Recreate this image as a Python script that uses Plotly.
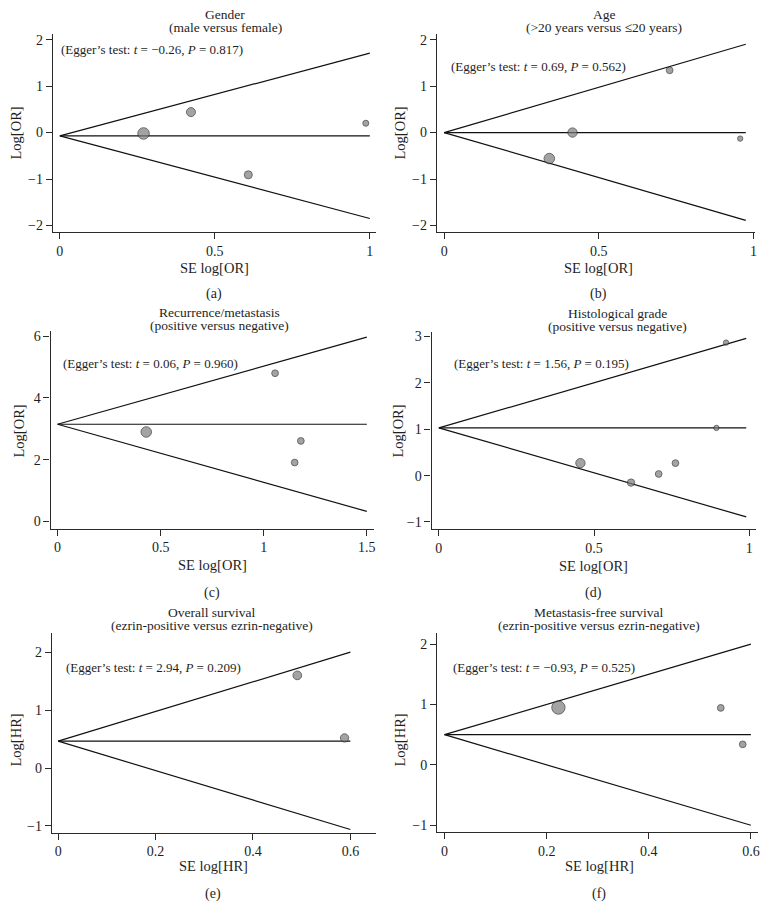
import plotly.graph_objects as go

W, H = 772, 908
FONT = "Liberation Serif, Times New Roman, serif"

# ---------------- data ----------------
# (a) Gender
se_a = [0.27, 0.423, 0.608, 0.987]
lor_a = [-0.02, 0.44, -0.91, 0.20]
w_a = [11.5, 9, 8, 6]
pooled_a, semax_a, hi_a, lo_a = -0.07, 1.0, 1.71, -1.85
title_a = ["Gender", "(male versus female)"]
egger_a = "(Egger’s test: <i>t</i> = −0.26, <i>P</i> = 0.817)"

# (b) Age
se_b = [0.34, 0.415, 0.729, 0.957]
lor_b = [-0.56, 0.0, 1.34, -0.13]
w_b = [10.5, 9.3, 6.7, 5.3]
pooled_b, semax_b, hi_b, lo_b = 0.0, 0.975, 1.90, -1.89
title_b = ["Age", "(&gt;20 years versus ≤20 years)"]
egger_b = "(Egger’s test: <i>t</i> = 0.69, <i>P</i> = 0.562)"

# (c) Recurrence/metastasis
se_c = [0.43, 1.055, 1.18, 1.15]
lor_c = [2.90, 4.80, 2.61, 1.91]
w_c = [10.5, 6.7, 6.7, 6.7]
pooled_c, semax_c, hi_c, lo_c = 3.15, 1.5, 5.97, 0.33
title_c = ["Recurrence/metastasis", "(positive versus negative)"]
egger_c = "(Egger’s test: <i>t</i> = 0.06, <i>P</i> = 0.960)"

# (d) Histological grade
se_d = [0.456, 0.619, 0.708, 0.762, 0.894, 0.925]
lor_d = [0.27, -0.15, 0.036, 0.27, 1.03, 2.87]
w_d = [9.3, 7.3, 6.7, 6.7, 5.3, 5.3]
pooled_d, semax_d, hi_d, lo_d = 1.03, 0.99, 2.96, -0.89
title_d = ["Histological grade", "(positive versus negative)"]
egger_d = "(Egger’s test: <i>t</i> = 1.56, <i>P</i> = 0.195)"

# (e) Overall survival
se_e = [0.491, 0.588]
lor_e = [1.60, 0.52]
w_e = [8.7, 8.3]
pooled_e, semax_e, hi_e, lo_e = 0.465, 0.6, 2.0, -1.06
title_e = ["Overall survival", "(ezrin-positive versus ezrin-negative)"]
egger_e = "(Egger’s test: <i>t</i> = 2.94, <i>P</i> = 0.209)"

# (f) Metastasis-free survival
se_f = [0.223, 0.541, 0.584]
lor_f = [0.95, 0.944, 0.34]
w_f = [13.3, 6.7, 6.7]
pooled_f, semax_f, hi_f, lo_f = 0.5, 0.6, 2.0, -1.0
title_f = ["Metastasis-free survival", "(ezrin-positive versus ezrin-negative)"]
egger_f = "(Egger’s test: <i>t</i> = −0.93, <i>P</i> = 0.525)"

xt_ab = [0, 0.5, 1]
xt_c = [0, 0.5, 1, 1.5]
xt_ef = [0, 0.2, 0.4, 0.6]
xtl_ab = ["0", "0.5", "1"]
xtl_c = ["0", "0.5", "1", "1.5"]
xtl_ef = ["0", "0.2", "0.4", "0.6"]
yt_ab = [-2, -1, 0, 1, 2]
yt_c = [0, 2, 4, 6]
yt_d = [-1, 0, 1, 2, 3]
yt_ef = [-1, 0, 1, 2]

def ylab(v):
    return [("−" + str(abs(t))) if t < 0 else str(t) for t in v]

# ---------------- layout geometry (pixels) ----------------
panels = [
    dict(se=se_a, lor=lor_a, w=w_a, pooled=pooled_a, semax=semax_a, hi=hi_a, lo=lo_a,
         title=title_a, egger=egger_a, xt=xt_ab, xtl=xtl_ab, yt=yt_ab,
         xlab="SE log[OR]", ylab="Log[OR]", tag="(a)",
         box=(53, 377, 32, 231), xr=(-0.0225, 1.020), yr=(-2.146, 2.124),
         tpos=(226, 13), epos=(60, 48), xlpos=(215, 267), ylpos=(16, 131), tagpos=(215, 293)),
    dict(se=se_b, lor=lor_b, w=w_b, pooled=pooled_b, semax=semax_b, hi=hi_b, lo=lo_b,
         title=title_b, egger=egger_b, xt=xt_ab, xtl=xtl_ab, yt=yt_ab,
         xlab="SE log[OR]", ylab="Log[OR]", tag="(b)",
         box=(438, 757, 32, 231), xr=(-0.0235, 1.005), yr=(-2.146, 2.124),
         tpos=(606, 13), epos=(451, 65), xlpos=(600, 267), ylpos=(401, 131), tagpos=(600, 293)),
    dict(se=se_c, lor=lor_c, w=w_c, pooled=pooled_c, semax=semax_c, hi=hi_c, lo=lo_c,
         title=title_c, egger=egger_c, xt=xt_c, xtl=xtl_c, yt=yt_c,
         xlab="SE log[OR]", ylab="Log[OR]", tag="(c)",
         box=(50.7, 375, 330, 528.3), xr=(-0.034, 1.535), yr=(-0.226, 6.17),
         tpos=(220, 312), epos=(62, 363), xlpos=(213, 565), ylpos=(19, 430), tagpos=(213, 593)),
    dict(se=se_d, lor=lor_d, w=w_d, pooled=pooled_d, semax=semax_d, hi=hi_d, lo=lo_d,
         title=title_d, egger=egger_d, xt=xt_ab, xtl=xtl_ab, yt=yt_d,
         xlab="SE log[OR]", ylab="Log[OR]", tag="(d)",
         box=(432.7, 757.7, 330.7, 528.7), xr=(-0.0234, 1.0206), yr=(-1.15, 3.107),
         tpos=(619, 313), epos=(454, 363), xlpos=(595, 566), ylpos=(399, 430), tagpos=(595, 593)),
    dict(se=se_e, lor=lor_e, w=w_e, pooled=pooled_e, semax=semax_e, hi=hi_e, lo=lo_e,
         title=title_e, egger=egger_e, xt=xt_ef, xtl=xtl_ef, yt=yt_ef,
         xlab="SE log[HR]", ylab="Log[HR]", tag="(e)",
         box=(52, 376.7, 633, 833.3), xr=(-0.0129, 0.652), yr=(-1.113, 2.333),
         tpos=(213, 613), epos=(65, 668), xlpos=(214, 867), ylpos=(16, 740), tagpos=(214, 895)),
    dict(se=se_f, lor=lor_f, w=w_f, pooled=pooled_f, semax=semax_f, hi=hi_f, lo=lo_f,
         title=title_f, egger=egger_f, xt=xt_ef, xtl=xtl_ef, yt=yt_ef,
         xlab="SE log[HR]", ylab="Log[HR]", tag="(f)",
         box=(438.3, 760, 633, 833), xr=(-0.0145, 0.614), yr=(-1.116, 2.186),
         tpos=(601, 613), epos=(453, 668), xlpos=(601, 867), ylpos=(401, 740), tagpos=(601, 895)),
]

def px(x):
    return x / W

def py(y):
    return 1 - y / H

fig = go.Figure()
annotations = []
layout = {}
AX = "#2b2b2b"
TXT = "#1e1e1e"

def ann(x, y, text, size, xanchor="center", angle=0):
    return dict(x=px(x), y=py(y), xref="paper", yref="paper", showarrow=False,
                text=text, xanchor=xanchor, yanchor="middle", textangle=angle,
                borderpad=0, font=dict(family=FONT, size=size, color=TXT))

for i, p in enumerate(panels, start=1):
    xa = "x" if i == 1 else f"x{i}"
    ya = "y" if i == 1 else f"y{i}"
    fx = [0, p["semax"], None, 0, p["semax"], None, 0, p["semax"]]
    fy = [p["pooled"], p["hi"], None, p["pooled"], p["lo"], None, p["pooled"], p["pooled"]]
    fig.add_trace(go.Scatter(x=fx, y=fy, mode="lines", line=dict(color="#111111", width=1.2),
                             xaxis=xa, yaxis=ya, showlegend=False, hoverinfo="skip"))
    fig.add_trace(go.Scatter(x=p["se"], y=p["lor"], mode="markers",
                             marker=dict(size=p["w"], color="#7d7d7d",
                                         line=dict(color="#2a2a2a", width=1)),
                             xaxis=xa, yaxis=ya, showlegend=False))
    x0, x1, y0, y1 = p["box"]
    xkey = "xaxis" if i == 1 else f"xaxis{i}"
    ykey = "yaxis" if i == 1 else f"yaxis{i}"
    layout[xkey] = dict(domain=[px(x0), px(x1)], range=list(p["xr"]), anchor=ya,
                        showline=True, linecolor=AX, linewidth=1.2, showgrid=False, zeroline=False,
                        ticks="outside", ticklen=6, tickwidth=1.2, tickcolor=AX,
                        tickvals=p["xt"], ticktext=p["xtl"],
                        tickfont=dict(family=FONT, size=14, color=TXT))
    layout[ykey] = dict(domain=[py(y1), py(y0)], range=list(p["yr"]), anchor=xa,
                        showline=True, linecolor=AX, linewidth=1.2, showgrid=False, zeroline=False,
                        ticks="outside", ticklen=6, tickwidth=1.2, tickcolor=AX,
                        tickvals=p["yt"], ticktext=ylab(p["yt"]),
                        tickfont=dict(family=FONT, size=14, color=TXT))
    tx, ty = p["tpos"]
    annotations.append(ann(tx, ty, p["title"][0], 13.5))
    annotations.append(ann(tx, ty + 12.5, p["title"][1], 13.5))
    ex, ey = p["epos"]
    annotations.append(ann(ex, ey, p["egger"], 13, xanchor="left"))
    lx, ly = p["xlpos"]
    annotations.append(ann(lx, ly, p["xlab"], 14.5))
    vx, vy = p["ylpos"]
    annotations.append(ann(vx, vy, p["ylab"], 14.5, angle=-90))
    gx, gy = p["tagpos"]
    annotations.append(ann(gx, gy, p["tag"], 14))

fig.update_layout(width=W, height=H, margin=dict(l=0, r=0, t=0, b=0),
                  paper_bgcolor="white", plot_bgcolor="white",
                  annotations=annotations, **layout)
fig.write_html("out.html", config={"displayModeBar": False},
               post_script="document.body.style.margin='0';document.body.style.overflow='hidden';")
